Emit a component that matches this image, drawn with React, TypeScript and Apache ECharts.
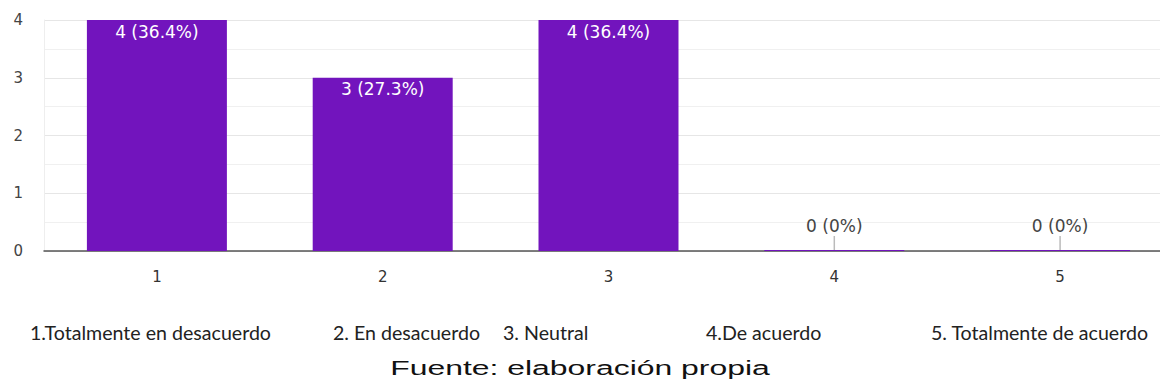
import React, { useEffect, useRef } from "react";
import * as echarts from "echarts";

const categories = ["1", "2", "3", "4", "5"];
const values = [4, 3, 4, 0, 0];
const yTicks = [0, 1, 2, 3, 4];
const legendLabels = [
  "1.Totalmente en desacuerdo",
  "2. En desacuerdo",
  "3. Neutral",
  "4.De acuerdo",
  "5. Totalmente de acuerdo",
];
const legendX = [30, 333, 503, 706, 931];
const sourceText = "Fuente: elaboración propia";

const total = values.reduce((a, b) => a + b, 0);
const pct = (v: number) => {
  const p = (v / total) * 100;
  return v === 0 ? "0%" : p.toFixed(1) + "%";
};

export default function App() {
  const ref = useRef<HTMLDivElement>(null);
  useEffect(() => {
    if (!ref.current) return;
    const chart = echarts.init(ref.current, undefined, { renderer: "svg" });
    const purple = "#7214BD";
    const font = "DejaVu Sans";
    chart.setOption({
      animation: false,
      grid: { left: 44, top: 20, bottom: 137, width: 1129, containLabel: false },
      xAxis: {
        type: "category",
        data: categories,
        axisLine: { lineStyle: { color: "#555", width: 1.5 } },
        axisTick: { show: false },
        axisLabel: { color: "#333", fontSize: 15, fontFamily: font, margin: 18 },
      },
      yAxis: {
        type: "value",
        min: yTicks[0],
        max: yTicks[yTicks.length - 1],
        interval: 1,
        axisLine: { show: true, lineStyle: { color: "#eeeeee" } },
        axisTick: { show: false },
        axisLabel: { color: "#444", fontSize: 15, fontFamily: font, margin: 21, align: "right" },
        splitLine: { lineStyle: { color: "#e6e6e6" } },
        minorTick: { show: false, splitNumber: 2 },
        minorSplitLine: { show: true, lineStyle: { color: "#f0f0f0" } },
      },
      series: [
        {
          type: "bar",
          data: values.map((v) => ({
            value: v,
            label:
              v === 0
                ? { position: "top", distance: 16, color: "#444" }
                : { position: "insideTop", distance: 3, color: "#fff" },
          })),
          barWidth: "62%",
          barMinHeight: 1,
          itemStyle: { color: purple },
          label: {
            show: true,
            fontSize: 17,
            fontFamily: font,
            formatter: (p: any) => `${p.value} (${pct(p.value)})`,
          },
        },
        {
          type: "custom",
          data: values.map((v, i) => [i, v]),
          renderItem: (params: any, api: any) => {
            const v = api.value(1);
            if (v !== 0) return null;
            const pt = api.coord([api.value(0), v]);
            return {
              type: "line",
              shape: { x1: pt[0], y1: pt[1] - 1, x2: pt[0], y2: pt[1] - 15 },
              style: { stroke: "#bbb", lineWidth: 1.5 },
            };
          },
          z: 5,
        },
      ],
      graphic: [
        ...legendLabels.map((t, i) => ({
          type: "text",
          x: legendX[i],
          y: 333,
          scaleX: 1.06,
          style: {
            text: t,
            fontSize: 18.5,
            fontFamily: "Lato",
            fill: "#222",
            textAlign: "left",
            textVerticalAlign: "middle",
          },
        })),
        {
          type: "text",
          x: 580,
          y: 368,
          scaleX: 1.52,
          style: {
            text: sourceText,
            fontSize: 21,
            fontFamily: "Liberation Sans",
            fill: "#111",
            textAlign: "center",
            textVerticalAlign: "middle",
          },
        },
      ],
    });
    return () => chart.dispose();
  }, []);
  return (
    <div
      style={{ position: "absolute", left: 0, top: 0, width: 1160, height: 388, overflow: "hidden", background: "#fff" }}
    >
      <div ref={ref} style={{ width: 1180, height: 388 }} />
    </div>
  );
}
